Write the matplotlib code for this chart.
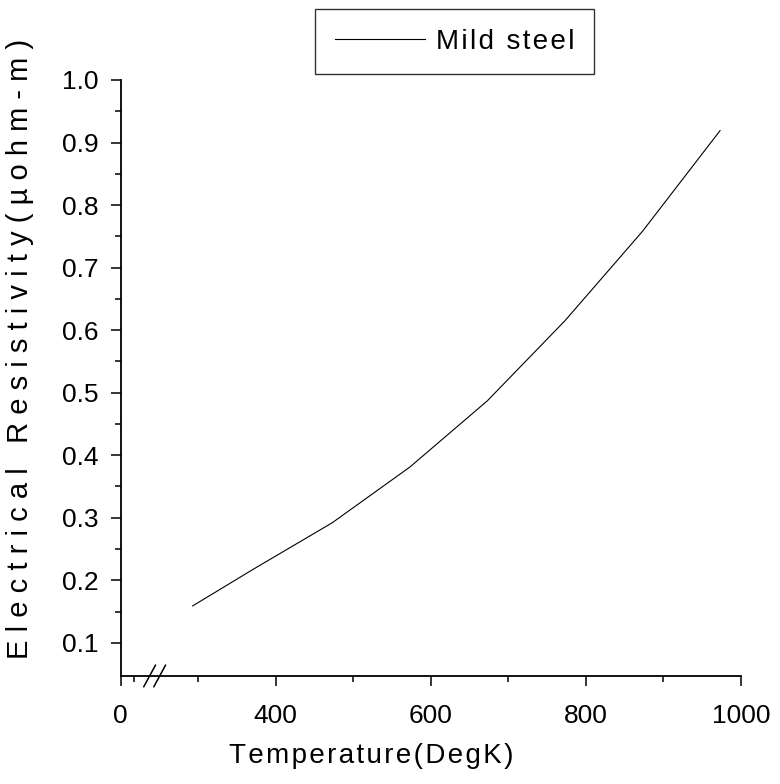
import matplotlib
matplotlib.use("Agg")
import matplotlib.pyplot as plt
import matplotlib.transforms as mtransforms

# resistivity of mild steel against temperature
temp_k = [293, 373, 473, 573, 673, 773, 873, 973]
resistivity = [0.159, 0.219, 0.292, 0.381, 0.487, 0.615, 0.758, 0.919]

x_ticks = [200, 400, 600, 800, 1000]
x_tick_labels = ["0", "400", "600", "800", "1000"]
y_ticks = [0.1, 0.2, 0.3, 0.4, 0.5, 0.6, 0.7, 0.8, 0.9, 1.0]
y_tick_labels = ["0.1", "0.2", "0.3", "0.4", "0.5", "0.6", "0.7", "0.8", "0.9", "1.0"]


def spaced(s, sep=" "):
    # the original draws its labels with wide letter spacing
    return sep.join(s)


plt.rcParams['font.family'] = ['Liberation Sans', 'DejaVu Sans']

fig = plt.figure(figsize=(7.8, 7.84), dpi=100)
ax = fig.add_axes([0.1545, 0.1378, 0.7955, 0.7602])

line, = ax.plot(temp_k, resistivity, color="black", lw=0.8, label="Mild steel")

ax.set_xlim(200, 1000)
ax.set_ylim(0.047, 1.0)

ax.set_xticks(x_ticks)
ax.set_xticklabels(x_tick_labels)
ax.set_xticks([217, 300, 500, 700, 900], minor=True)
ax.set_yticks(y_ticks)
ax.set_yticklabels(y_tick_labels)
ax.set_yticks([0.15, 0.25, 0.35, 0.45, 0.55, 0.65, 0.75, 0.85, 0.95], minor=True)

ax.tick_params(which="major", direction="out", length=7.5, width=1.1, labelsize=19)
ax.tick_params(axis="x", which="major", pad=13)
ax.tick_params(axis="y", which="major", pad=8)
ax.tick_params(which="minor", direction="out", length=4, width=1.1)

for side in ["top", "right"]:
    ax.spines[side].set_visible(False)
for side in ["left", "bottom"]:
    ax.spines[side].set_linewidth(1.3)

# axis break marks
trans = mtransforms.blended_transform_factory(ax.transData, ax.transAxes)
for x0 in [230, 243]:
    ax.plot([x0, x0 + 15], [-0.018, 0.018], color="black", lw=1.1,
            transform=trans, clip_on=False)

ax.set_xlabel(spaced("Temperature(DegK)", "\u200a"), fontsize=20)
ax.xaxis.set_label_coords(0.404, -0.112)
ax.set_ylabel(spaced("Electrical Resistivity(\u00b5ohm-m)"), fontsize=21)
ax.yaxis.set_label_coords(-0.139, 0.548)

leg = fig.legend(handles=[line], loc="upper center", bbox_to_anchor=(0.583, 0.988),
                 fontsize=20, frameon=True, fancybox=False, handlelength=3.24,
                 borderpad=0.7, handletextpad=0.43, borderaxespad=0)
leg.get_frame().set_edgecolor("black")
leg.get_frame().set_linewidth(1.0)
for t in leg.get_texts():
    t.set_text(spaced("Mild steel", "\u200a"))

fig.savefig("out.png", dpi=100)
